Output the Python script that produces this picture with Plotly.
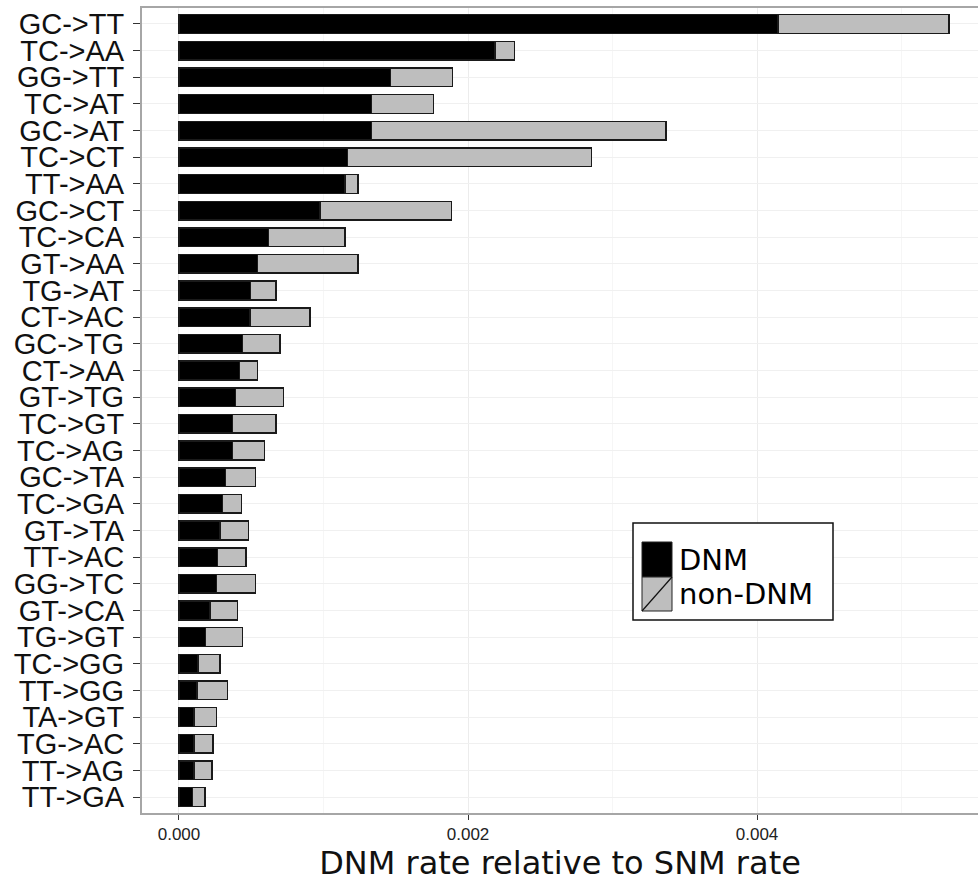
import plotly.graph_objects as go

categories = ["GC->TT", "TC->AA", "GG->TT", "TC->AT", "GC->AT", "TC->CT", "TT->AA",
              "GC->CT", "TC->CA", "GT->AA", "TG->AT", "CT->AC", "GC->TG", "CT->AA",
              "GT->TG", "TC->GT", "TC->AG", "GC->TA", "TC->GA", "GT->TA", "TT->AC",
              "GG->TC", "GT->CA", "TG->GT", "TC->GG", "TT->GG", "TA->GT", "TG->AC",
              "TT->AG", "TT->GA"]

dnm = [0.004145, 0.002187, 0.001465, 0.001333, 0.001333, 0.001165, 0.001149,
       0.000976, 0.000618, 0.000544, 0.000496, 0.000491, 0.000438, 0.000417,
       0.000392, 0.000371, 0.000369, 0.000323, 0.000300, 0.000284, 0.000265,
       0.000261, 0.000215, 0.000185, 0.000131, 0.000125, 0.000104, 0.000104,
       0.000104, 0.000092]

non_dnm = [0.001184, 0.000133, 0.000427, 0.000427, 0.002037, 0.001691, 0.000088,
           0.000911, 0.000531, 0.000693, 0.000175, 0.000416, 0.000261, 0.000127,
           0.000332, 0.000300, 0.000221, 0.000208, 0.000134, 0.000198, 0.000199,
           0.000270, 0.000191, 0.000256, 0.000153, 0.000212, 0.000157, 0.000133,
           0.000124, 0.000088]

x_ticks = [0.0, 0.002, 0.004]
x_tick_labels = ["0.000", "0.002", "0.004"]

W, H = 978, 883
L, R, T, B = 142, 0, 8, 70

fig = go.Figure()
fig.add_trace(go.Bar(y=categories, x=dnm, orientation="h", name="DNM",
                     marker=dict(color="#000000", line=dict(color="#1a1a1a", width=1.5)),
                     showlegend=False))
fig.add_trace(go.Bar(y=categories, x=non_dnm, orientation="h", name="non-DNM",
                     marker=dict(color="#bebebe", line=dict(color="#1a1a1a", width=1.5)),
                     showlegend=False))

# manual legend (ggplot style)
def px_x(px):
    return (px - L) / (W - L - R)

def px_y(py):
    return (H - B - py) / (H - T - B)

shapes = [
    dict(type="rect", xref="paper", yref="paper", x0=px_x(633), x1=px_x(833),
         y0=px_y(620), y1=px_y(523), line=dict(color="#111", width=1.5), fillcolor="white"),
    dict(type="rect", xref="paper", yref="paper", x0=px_x(642), x1=px_x(672),
         y0=px_y(577), y1=px_y(542), line=dict(color="#222", width=1), fillcolor="#000000"),
    dict(type="rect", xref="paper", yref="paper", x0=px_x(642), x1=px_x(672),
         y0=px_y(611), y1=px_y(577), line=dict(color="#222", width=1), fillcolor="#bebebe"),
    dict(type="line", xref="paper", yref="paper", x0=px_x(642), x1=px_x(672),
         y0=px_y(611), y1=px_y(577), line=dict(color="#111", width=1.2)),
]
annotations = [
    dict(xref="paper", yref="paper", x=px_x(677), y=px_y(560), text="DNM",
         showarrow=False, xanchor="left", yanchor="middle",
         font=dict(family="DejaVu Sans", size=29, color="#000")),
    dict(xref="paper", yref="paper", x=px_x(677), y=px_y(594), text="non-DNM",
         showarrow=False, xanchor="left", yanchor="middle",
         font=dict(family="DejaVu Sans", size=29, color="#000")),
]

fig.update_layout(
    width=W, height=H,
    margin=dict(l=L, r=R, t=T, b=B, pad=0),
    barmode="stack", bargap=0.3,
    plot_bgcolor="white", paper_bgcolor="white",
    shapes=shapes, annotations=annotations,
    xaxis=dict(
        range=[-0.000256, 0.005529],
        tickvals=x_ticks, ticktext=x_tick_labels,
        ticks="outside", ticklen=5, tickwidth=1, tickcolor="#333",
        tickfont=dict(family="Liberation Sans Narrow, Liberation Sans", size=17, color="#222"),
        showgrid=True, gridcolor="#ececec", gridwidth=1,
        minor=dict(dtick=0.001, tick0=0, showgrid=True, gridcolor="#f6f6f6", gridwidth=1, ticks=""),
        zeroline=False,
        showline=True, linecolor="#a6a6a6", linewidth=2, mirror=True,
        title=dict(text="DNM rate relative to SNM rate", standoff=8,
                   font=dict(family="DejaVu Sans", size=32, color="#111")),
    ),
    yaxis=dict(
        type="category", categoryorder="array", categoryarray=categories[::-1],
        tickmode="array", tickvals=categories, ticktext=categories,
        range=[-0.6, 29.6],
        ticks="outside", ticklen=7, tickwidth=1, tickcolor="#333",
        tickfont=dict(family="Liberation Sans", size=29, color="#111"),
        ticklabelstandoff=3,
        showgrid=True, gridcolor="#f0f0f0", gridwidth=1,
        zeroline=False,
        showline=True, linecolor="#a6a6a6", linewidth=2, mirror=False,
    ),
)

fig.write_html("out.html")
